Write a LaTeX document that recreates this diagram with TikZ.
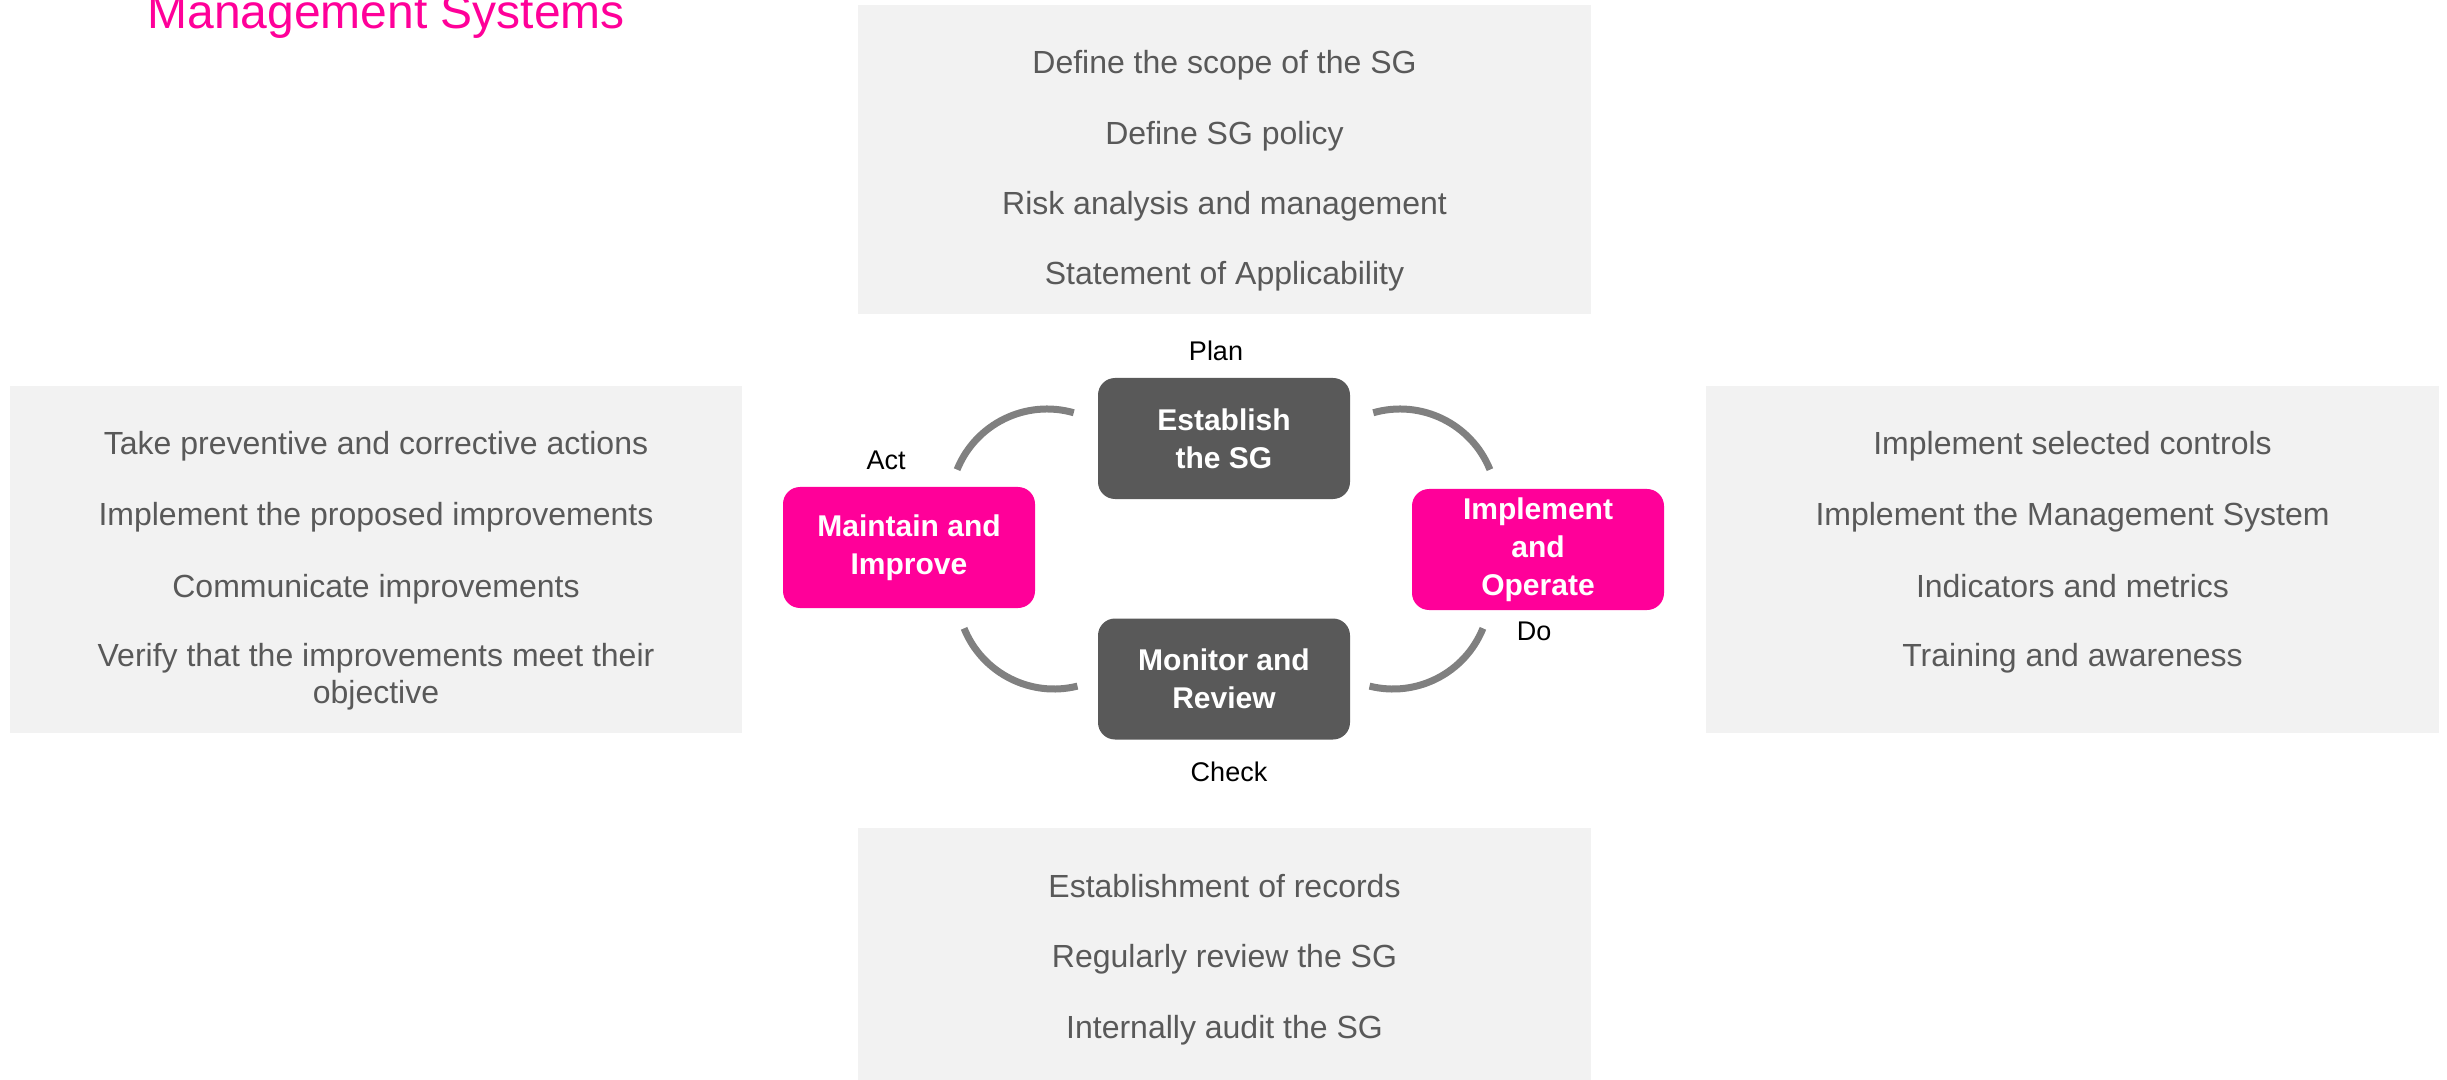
\documentclass[tikz,border=0pt]{standalone}
\usepackage{fontspec}
\setmainfont{Liberation Sans}
\definecolor{sgpink}{HTML}{FF0099}
\definecolor{boxdark}{HTML}{595959}
\definecolor{panelgray}{HTML}{F2F2F2}
\definecolor{entrygray}{HTML}{595959}
\definecolor{arcgray}{HTML}{808080}

\begin{document}
\begin{tikzpicture}[
    x=0.5pt, y=0.5pt,
    panel/.style={fill=panelgray, inner sep=0pt},
    entry/.style={font=\fontsize{16}{18.5}\selectfont, text=entrygray, inner sep=0pt, align=center},
    phase/.style={rounded corners=8.5pt, minimum width=126pt, minimum height=60.5pt, inner sep=0pt,
                  align=center, text=white, font=\bfseries\fontsize{15}{19}\selectfont},
    darkphase/.style={phase, fill=boxdark},
    pinkphase/.style={phase, fill=sgpink},
    phaselabel/.style={font=\fontsize{13.5}{16}\selectfont, inner sep=0pt},
    cyclearc/.style={draw=arcgray, line width=3.5pt}
]
    \useasboundingbox (0,0) rectangle (2447,-1080);

    % Title (cut at the top)
    \node[anchor=base west, inner sep=0pt, text=sgpink, font=\fontsize{24}{28}\selectfont]
        (title) at (147,-29) {Management Systems};

    % Grey panels
    \node[panel, minimum width=366.5pt, minimum height=154.5pt] (planbox) at (1224.5,-159.5) {};
    \node[panel, minimum width=366pt, minimum height=173.5pt] (actbox) at (376,-559.5) {};
    \node[panel, minimum width=366.5pt, minimum height=173.5pt] (dobox) at (2072.5,-559.5) {};
    \node[panel, minimum width=366.5pt, minimum height=126pt] (checkbox) at (1224.5,-954) {};

    % Panel entries
    \foreach \txt/\y [count=\i] in {Define the scope of the SG/74, Define SG policy/145,
        Risk analysis and management/215, Statement of Applicability/285} {
        \node[entry, anchor=base] (plan\i) at (1224.5,-\y) {\txt};
    }
    \foreach \txt/\y [count=\i] in {Take preventive and corrective actions/455,
        Implement the proposed improvements/525, Communicate improvements/597} {
        \node[entry, anchor=base] (act\i) at (376,-\y) {\txt};
    }
    \node[entry, anchor=base] (act4) at (376,-666) {Verify that the improvements meet their};
    \node[entry, anchor=base] (act4b) at (376,-703) {objective};
    \foreach \txt/\y [count=\i] in {Implement selected controls/455,
        Implement the Management System/525, Indicators and metrics/597,
        Training and awareness/666} {
        \node[entry, anchor=base] (do\i) at (2072.5,-\y) {\txt};
    }
    \foreach \txt/\y [count=\i] in {Establishment of records/897,
        Regularly review the SG/967, Internally audit the SG/1038} {
        \node[entry, anchor=base] (check\i) at (1224.5,-\y) {\txt};
    }

    % PDCA boxes
    \node[darkphase] (establish) at (1224,-438.5) {Establish\\the SG};
    \node[pinkphase] (implement) at (1538,-549.5) {Implement\\and\\Operate};
    \node[darkphase] (monitor) at (1224,-679) {Monitor and\\Review};
    \node[pinkphase] (maintain) at (909,-547.5) {Maintain and\\Improve};

    % Phase names
    \node[phaselabel] (plan) at (1216,-351) {Plan};
    \node[phaselabel] (do) at (1534,-631) {Do};
    \node[phaselabel] (check) at (1229,-772) {Check};
    \node[phaselabel] (act) at (886,-460) {Act};

    % Arcs between the boxes
    \coordinate (tl) at (1047,-506);
    \coordinate (tr) at (1400,-506);
    \coordinate (bl) at (1054,-592);
    \coordinate (br) at (1393,-592);
    \draw[cyclearc] ([shift={(74:48.5pt)}]tl) arc[start angle=74, end angle=158, radius=48.5pt];
    \draw[cyclearc] ([shift={(106:48.5pt)}]tr) arc[start angle=106, end angle=22, radius=48.5pt];
    \draw[cyclearc] ([shift={(202:48.5pt)}]bl) arc[start angle=202, end angle=284, radius=48.5pt];
    \draw[cyclearc] ([shift={(338:48.5pt)}]br) arc[start angle=338, end angle=256, radius=48.5pt];

\end{tikzpicture}
\end{document}
